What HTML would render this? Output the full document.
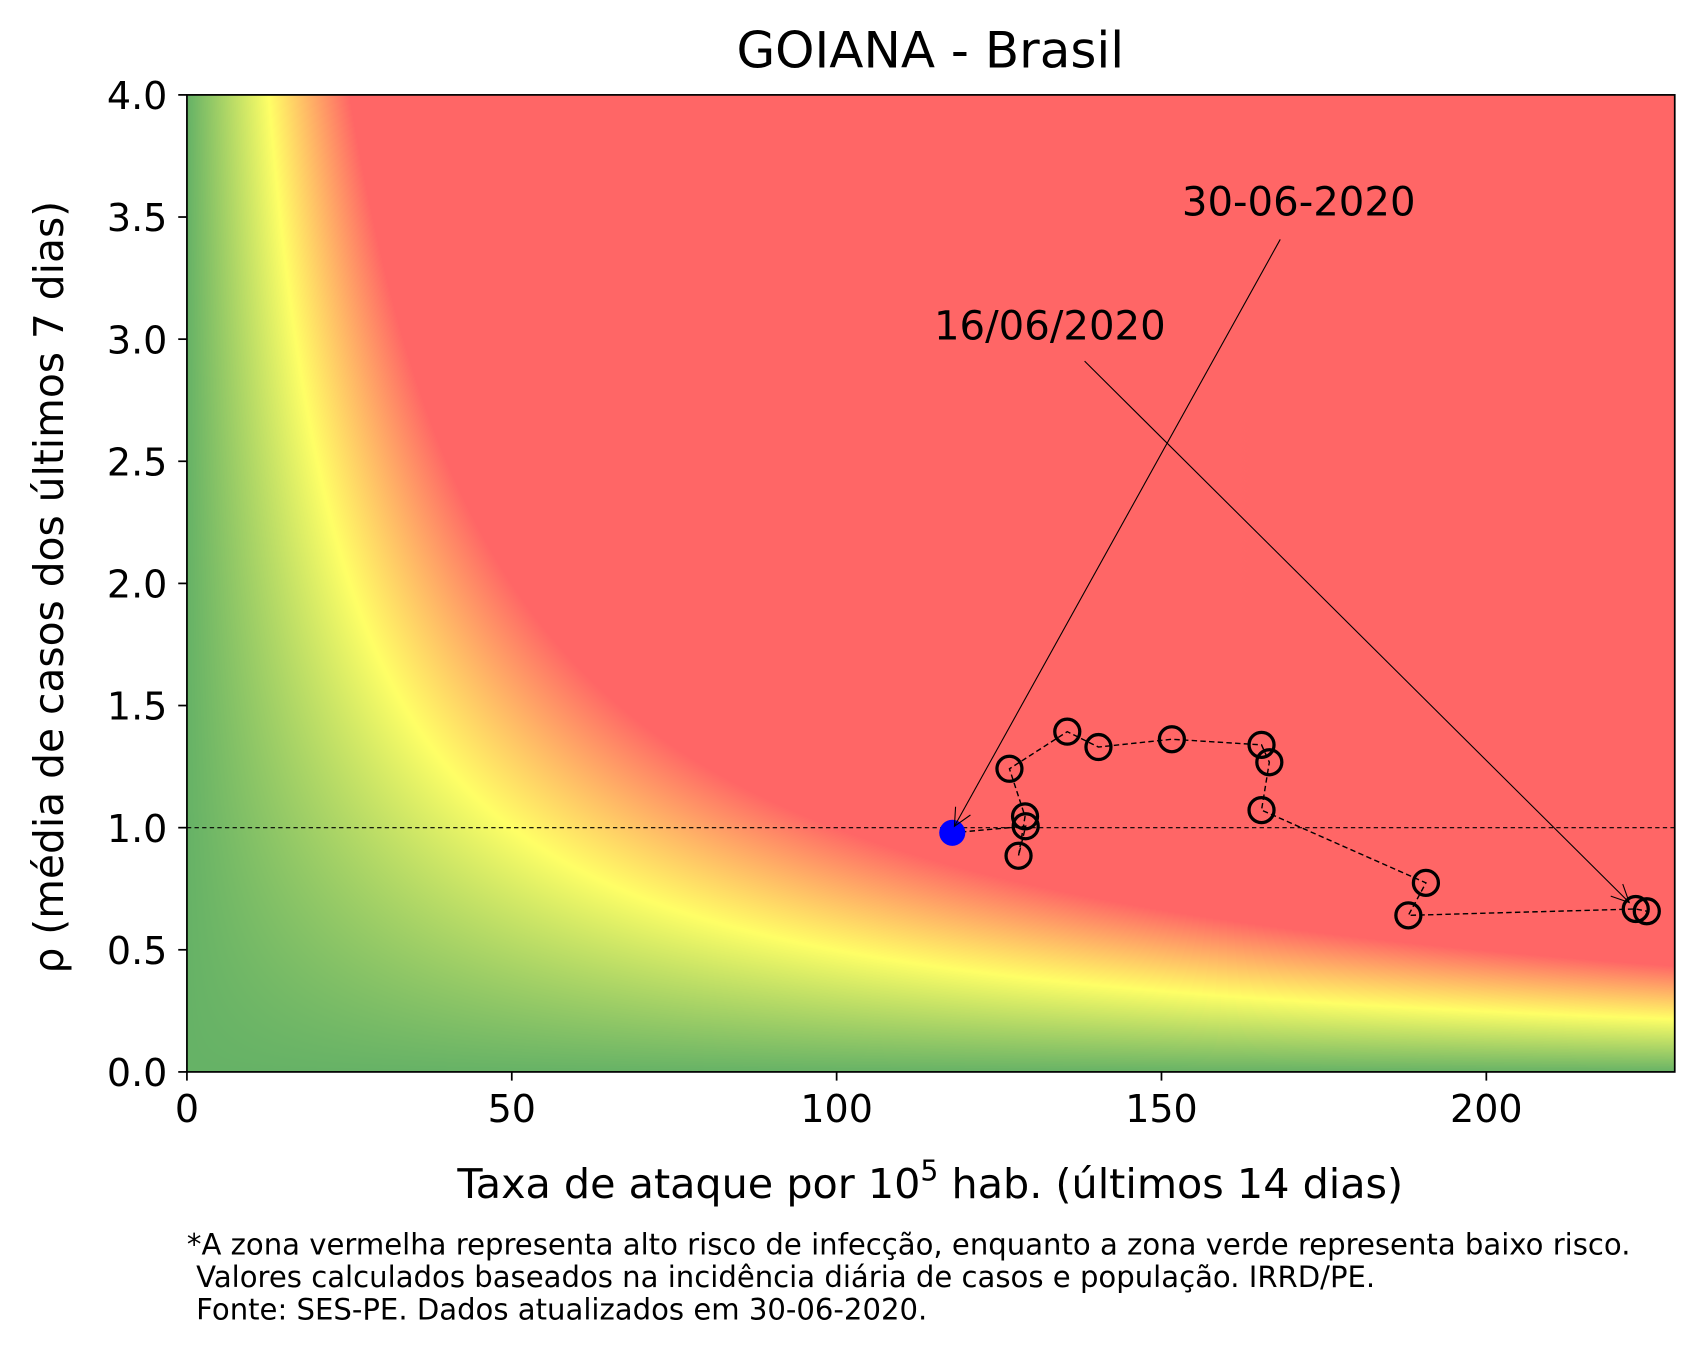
<!DOCTYPE html>
<html><head><meta charset="utf-8"><style>
html,body{margin:0;padding:0;background:#fff;}
#wrap{position:relative;width:1703px;height:1357px;overflow:hidden;}
canvas{position:absolute;}
svg{position:absolute;left:0;top:0;}
text{font-family:"DejaVu Sans","Liberation Sans",sans-serif;fill:#000;}
</style></head><body>
<div id="wrap">
<canvas id="field"></canvas>
<svg id="svg" width="1703" height="1357" viewBox="0 0 1567 1248"></svg>
</div>
<script>
const xTicks=[0,50,100,150,200];
const yTicks=[0.0,0.5,1.0,1.5,2.0,2.5,3.0,3.5,4.0];
const seriesX=[117.8,129.1,128.0,129.0,126.6,135.5,140.3,151.6,165.4,166.6,165.4,190.7,188.0,223.0,224.7];
const seriesY=[0.979,1.006,0.885,1.046,1.241,1.393,1.330,1.362,1.339,1.268,1.072,0.774,0.641,0.667,0.658];
const riskLevels=[0,50,100];
const S=1703/1567;
const L=172,R=1541,T=87,B=986,XMAX=229,YMAX=4;
const sx=v=>L+(R-L)*v/XMAX, sy=v=>B-(B-T)*v/YMAX;
const svg=document.getElementById('svg');
const NS='http://www.w3.org/2000/svg';
function mk(tag,attrs,txt){const e=document.createElementNS(NS,tag);for(const k in attrs)e.setAttribute(k,attrs[k]);if(txt!==undefined)e.textContent=txt;svg.appendChild(e);return e;}
const cv=document.getElementById('field');
const cw=Math.round((R-L)*S),ch=Math.round((B-T)*S);
cv.width=cw;cv.height=ch;cv.style.left=(L*S)+'px';cv.style.top=(T*S)+'px';
const ctx=cv.getContext('2d');const img=ctx.createImageData(cw,ch);
const G=[102,178,102],Y=[255,255,102],Rr=[255,102,102];
for(let j=0;j<ch;j++){const yv=YMAX*(1-j/ch);for(let i=0;i<cw;i++){const xv=XMAX*i/cw;let v=xv*yv;let c;
if(v<=riskLevels[1]){const t=v/riskLevels[1];c=G.map((g,k)=>g+(Y[k]-g)*t);}
else{const t=Math.min(1,(v-riskLevels[1])/(riskLevels[2]-riskLevels[1]));c=Y.map((g,k)=>g+(Rr[k]-g)*t);}
const p=(j*cw+i)*4;img.data[p]=c[0];img.data[p+1]=c[1];img.data[p+2]=c[2];img.data[p+3]=255;}}
ctx.putImageData(img,0,0);
let e=mk('text',{x:856,y:62,'font-size':46,'text-anchor':'middle'},'GOIANA - Brasil');

e=mk('line',{x1:L,x2:R,y1:sy(1),y2:sy(1),stroke:'#000','stroke-width':1.1,'stroke-dasharray':'4,3'});

let d='';seriesX.forEach((x,i)=>{d+=(i?'L':'M')+sx(x)+','+sy(seriesY[i]);});
e=mk('path',{d:d,fill:'none',stroke:'#000','stroke-width':1.3,'stroke-dasharray':'5,3'});

seriesX.forEach((x,i)=>{if(i===0)return;const c=mk('circle',{cx:sx(x),cy:sy(seriesY[i]),r:11.5,fill:'none',stroke:'#000','stroke-width':3});
});
e=mk('circle',{cx:sx(seriesX[0]),cy:sy(seriesY[0]),r:12,fill:'#0000ff'});

function ann(tx,ty,x1,y1,x2,y2,label,name){
 const t=mk('text',{x:tx,y:ty,'font-size':37,'text-anchor':'middle'},label);
 
 const l=mk('line',{x1:x1,y1:y1,x2:x2,y2:y2,stroke:'#000','stroke-width':1});
 
 const a=Math.atan2(y2-y1,x2-x1),s=18;
 const p=mk('path',{d:`M${x2-s*Math.cos(a-0.45)},${y2-s*Math.sin(a-0.45)}L${x2},${y2}L${x2-s*Math.cos(a+0.45)},${y2-s*Math.sin(a+0.45)}`,fill:'none',stroke:'#000','stroke-width':1});
 
}
ann(1195,198,1178,220,sx(seriesX[0])+2,sy(seriesY[0])-6,'30-06-2020','annotation-end');
ann(966,312,998,332,sx(seriesX[13])-6,sy(seriesY[13])-6,'16/06/2020','annotation-start');
e=mk('rect',{x:L,y:T,width:R-L,height:B-T,fill:'none',stroke:'#000','stroke-width':1.6});

xTicks.forEach(v=>{const x=sx(v);const l=mk('line',{x1:x,x2:x,y1:B,y2:B+8,stroke:'#000','stroke-width':1.6});

const t=mk('text',{x:x,y:B+46,'font-size':35,'text-anchor':'middle'},String(v));
});
yTicks.forEach(v=>{const y=sy(v);const l=mk('line',{x1:L-8,x2:L,y1:y,y2:y,stroke:'#000','stroke-width':1.6});

const t=mk('text',{x:L-18,y:y+13,'font-size':35,'text-anchor':'end'},v.toFixed(1));
});
e=mk('text',{x:856,y:1102,'font-size':38,'text-anchor':'middle'});
e.innerHTML='Taxa de ataque por 10<tspan dy="-16" font-size="26">5</tspan><tspan dy="16"> hab. (últimos 14 dias)</tspan>';

e=mk('text',{x:0,y:0,'font-size':37.5,'text-anchor':'middle',transform:'translate(58,540) rotate(-90)'},'ρ (média de casos dos últimos 7 dias)');

const notes=['*A zona vermelha representa alto risco de infecção, enquanto a zona verde representa baixo risco.',' Valores calculados baseados na incidência diária de casos e população. IRRD/PE.',' Fonte: SES-PE. Dados atualizados em 30-06-2020.'];
notes.forEach((s,i)=>{const t=mk('text',{x:172,y:1154+i*30,'font-size':26.8},s);
t.setAttribute('style','white-space:pre');
});
</script>
</body></html>
